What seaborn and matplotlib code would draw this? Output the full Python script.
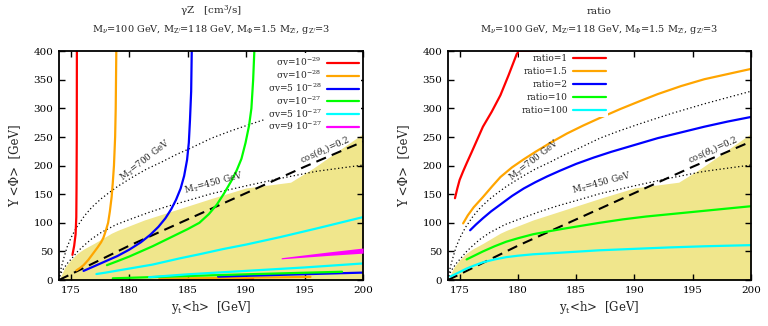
import matplotlib
matplotlib.use("Agg")
import matplotlib.pyplot as plt
import seaborn as sns
import pandas as pd

sns.set_theme(style="ticks")
plt.rcParams["font.family"] = ["DejaVu Serif"]
plt.rcParams["mathtext.fontset"] = "dejavuserif"

# ---- shared curves (same in both panels) ----
mt700_x = [174.0, 174.05, 174.15, 174.3, 174.45, 174.7, 175.03, 175.5, 176.17, 176.8, 177.6, 178.3,
           179.04, 180.46, 181.5, 182.75, 184.0, 185.2, 187.05, 188.6, 190.3, 193.0, 196.0, 200.0]
mt700_y = [0, 8, 18, 30, 41, 58, 74, 92, 112, 127, 142, 153,
           164, 182, 194, 206, 219, 230, 248, 260, 272, 290, 308, 330]
mt450_x = [174.0, 174.05, 174.15, 174.3, 174.5, 174.75, 175.1, 175.6, 176.17, 176.8, 177.6, 178.9,
           180.46, 181.8, 183.3, 185.2, 187.05, 190.3, 193.0, 196.0, 200.0]
mt450_y = [0, 5, 11, 17, 23, 30, 38, 50, 61, 72, 83, 97,
           109, 119, 129, 140, 151, 166, 178, 190, 201]
cos_x = [174.0, 180.0, 185.0, 190.0, 195.0, 200.0]
cos_y = [0, 60, 106, 152, 198, 242]
fill_x = [174.0, 174.5, 175.0, 175.6, 176.1, 177.0, 178.5, 179.04, 181.3, 184.2, 187.1, 190.0, 193.8, 195.7, 200.0]
fill_y = [0, 22, 35, 47, 54, 64, 82, 87, 105, 124, 143, 161, 171, 195, 256]

# ---- left panel: sigma v contours ----
sv_labels = [r"σv=10$^{-29}$", r"σv=10$^{-28}$", r"σv=5 10$^{-28}$",
             r"σv=10$^{-27}$", r"σv=5 10$^{-27}$", r"σv=9 10$^{-27}$"]
sv_colors = ["#ff0000", "#ffa500", "#0000ff", "#00ff00", "#00ffff", "#ff00ff"]
sv29_x = [175.15, 175.3, 175.42, 175.48, 175.5, 175.52, 175.53]
sv29_y = [44, 60, 80, 110, 160, 250, 400]
sv29_low_x = [182.6, 186.0, 190.6]
sv29_low_y = [1.2, 1.5, 2.0]
sv28_x = [175.5, 175.8, 176.1, 176.5, 176.9, 177.3, 177.6, 177.8, 178.0, 178.2, 178.35, 178.5,
          178.6, 178.7, 178.8, 178.85, 178.9]
sv28_y = [17, 21, 26, 35, 46, 57, 66, 74, 86, 100, 120, 145, 170, 200, 250, 300, 400]
sv28_low_x = [182.6, 190.0, 195.5]
sv28_low_y = [2.5, 4.0, 5.5]
sv5e28_x = [176.1, 177.0, 178.0, 179.0, 180.0, 181.0, 181.8, 182.5, 183.1, 183.6, 184.0, 184.4,
            184.7, 184.95, 185.1, 185.2, 185.3, 185.35]
sv5e28_y = [16, 24, 33, 42, 53, 66, 79, 93, 108, 124, 140, 160, 182, 210, 240, 280, 330, 400]
sv5e28_low_x = [187.6, 192.0, 200.0]
sv5e28_low_y = [6, 8.5, 13]
sv27_x = [178.1, 179.0, 180.0, 181.0, 182.0, 183.0, 184.0, 185.0, 186.0, 186.8, 187.5, 188.1,
          188.7, 189.2, 189.6, 189.95, 190.25, 190.45, 190.6, 190.7]
sv27_y = [26, 33, 41, 50, 59, 69, 79, 89, 100, 115, 132, 151, 172, 192, 212, 240, 270, 300, 350, 400]
sv27_low_x = [178.6, 185.0, 190.0, 198.2]
sv27_low_y = [3, 7, 10, 14.5]
sv5e27_x = [177.2, 178.0, 180.0, 182.0, 184.35, 186.0, 188.0, 190.0, 192.9, 196.0, 200.0]
sv5e27_y = [10.5, 13, 20, 27, 38, 45, 54, 62, 75, 90, 110]
sv5e27_low_x = [181.7, 185.0, 190.0, 195.0, 200.0]
sv5e27_low_y = [5, 10, 16, 22, 29]
sv9e27_x = [193.0, 195.0, 197.0, 200.0]
sv9e27_lo = [37, 40, 43, 47]
sv9e27_hi = [39, 44, 49, 56]

# ---- right panel: ratio curves ----
ratio_labels = ["ratio=1", "ratio=1.5", "ratio=2", "ratio=10", "ratio=100"]
ratio_colors = ["#ff0000", "#ffa500", "#0000ff", "#00ff00", "#00ffff"]
r1_x = [174.6, 174.8, 175.0, 175.3, 175.6, 176.0, 176.5, 177.0, 177.75, 178.5, 179.2, 179.9, 180.1, 182.2]
r1_y = [143, 160, 175, 190, 204, 222, 245, 268, 294, 323, 358, 395, 400, 401.5]
r15_x = [175.3, 175.7, 176.2, 177.0, 177.8, 178.5, 179.5, 180.5, 181.5, 182.8, 184.2, 185.6,
         187.0, 188.8, 190.5, 192.0, 194.0, 196.0, 198.0, 200.0]
r15_y = [99, 113, 127, 145, 164, 180, 197, 211, 224, 240, 256, 270,
         283, 299, 313, 325, 339, 351, 360, 369]
r2_x = [175.9, 176.4, 177.0, 177.7, 178.5, 179.5, 180.5, 181.5, 182.5, 183.6, 185.0, 186.5,
        188.0, 190.0, 192.0, 194.0, 196.0, 198.0, 200.0]
r2_y = [87, 97, 108, 120, 132, 147, 160, 171, 181, 191, 203, 214,
        224, 236, 248, 258, 268, 277, 285]
r10_x = [175.6, 176.2, 177.0, 178.0, 179.0, 180.0, 181.3, 182.6, 184.0, 185.5, 187.0, 189.0,
         191.0, 193.0, 195.5, 198.0, 200.0]
r10_y = [36, 42, 50, 59, 67, 73, 80, 85, 90, 95, 100, 106, 111, 115, 120, 125, 129]
r100_x = [174.2, 174.6, 175.0, 175.6, 176.2, 177.0, 178.0, 179.0, 180.0, 181.3, 183.0, 185.0,
          187.0, 190.0, 193.0, 196.0, 200.0]
r100_y = [6, 10, 14, 20, 25, 31, 36, 40, 42.5, 45, 47, 49.5, 52, 54.5, 57, 59, 61]

subtitle = r"M$_\nu$=100 GeV, M$_{\rm Z'}$=118 GeV, M$_\Phi$=1.5 M$_{\rm Z'}$, g$_{\rm Z'}$=3"


def curve(ax, x, y, color, lw=1.6, **kw):
    df = pd.DataFrame({"x": x, "y": y})
    sns.lineplot(data=df, x="x", y="y", ax=ax, color=color, lw=lw,
                 sort=False, estimator=None, legend=False, **kw)
    return ax.lines[-1]


def background(ax):
    ax.fill_between(fill_x, 0, fill_y, color="#f0e68c", lw=0, zorder=0)
    curve(ax, mt700_x, mt700_y, "black", lw=0.9, linestyle=(0, (1, 2)))
    curve(ax, mt450_x, mt450_y, "black", lw=0.9, linestyle=(0, (1, 2)))
    curve(ax, cos_x, cos_y, "black", lw=1.5, linestyle=(0, (5, 3)))
    kw = dict(fontsize=6.3, ha="center", va="center", rotation_mode="anchor")
    ax.text(181.4, 209, r"M$_{\rm T}$=700 GeV", rotation=38, **kw)
    ax.text(187.2, 170, r"M$_{\rm T}$=450 GeV", rotation=15, **kw)
    ax.text(196.7, 228, r"cos($\theta_{\rm L}$)=0.2", rotation=24, **kw)


def style(ax, title):
    ax.set_xlim(174, 200)
    ax.set_ylim(0, 400)
    ax.set_xticks([175, 180, 185, 190, 195, 200])
    ax.set_yticks(range(0, 401, 50))
    ax.tick_params(direction="in", top=True, right=True, length=4, width=1,
                   labelsize=7.5, pad=4, colors="black")
    for s in ax.spines.values():
        s.set_linewidth(1.3)
        s.set_color("black")
    ax.set_xlabel(r"y$_{\rm t}$<h>  [GeV]", fontsize=8.5, labelpad=3)
    ax.set_ylabel("Y <Φ>  [GeV]", fontsize=8.5, labelpad=9)
    ax.text(0.5, 1.175, title, transform=ax.transAxes, ha="center", va="center", fontsize=7.5)
    ax.text(0.5, 1.096, subtitle, transform=ax.transAxes, ha="center", va="center", fontsize=7)


fig = plt.figure(figsize=(7.68, 3.26), dpi=100)
ax1 = fig.add_axes([0.0768, 0.141, 0.396, 0.702])
ax2 = fig.add_axes([0.5833, 0.141, 0.3945, 0.702])

# left panel
background(ax1)
handles = []
main = [(sv29_x, sv29_y), (sv28_x, sv28_y), (sv5e28_x, sv5e28_y), (sv27_x, sv27_y), (sv5e27_x, sv5e27_y)]
lows = [(sv29_low_x, sv29_low_y), (sv28_low_x, sv28_low_y), (sv5e28_low_x, sv5e28_low_y),
        (sv27_low_x, sv27_low_y), (sv5e27_low_x, sv5e27_low_y)]
for (x, y), (lx, ly), c in zip(main, lows, sv_colors):
    handles.append(curve(ax1, x, y, c))
    curve(ax1, lx, ly, c)
ax1.fill_between(sv9e27_x, sv9e27_lo, sv9e27_hi, color=sv_colors[5], lw=0, zorder=3)
handles.append(plt.Line2D([], [], color=sv_colors[5], lw=1.6))
style(ax1, r"γZ   [cm$^3$/s]")
leg = ax1.legend(handles, sv_labels, loc="upper right", bbox_to_anchor=(1.0, 1.0),
                 markerfirst=False, fontsize=6.5, handlelength=3.5, handletextpad=0.6,
                 labelspacing=0.05, borderpad=0.3, borderaxespad=0.2,
                 frameon=True, framealpha=1, facecolor="white", edgecolor="none", fancybox=False)
leg.set_zorder(5)

# right panel
background(ax2)
handles = []
for (x, y), c in zip([(r1_x, r1_y), (r15_x, r15_y), (r2_x, r2_y), (r10_x, r10_y), (r100_x, r100_y)], ratio_colors):
    handles.append(curve(ax2, x, y, c))
style(ax2, "ratio")
leg = ax2.legend(handles, ratio_labels, loc="upper right", bbox_to_anchor=(0.53, 1.0),
                 markerfirst=False, fontsize=6.5, handlelength=3.6, handletextpad=0.6,
                 labelspacing=0.45, borderpad=0.2, borderaxespad=0.1,
                 frameon=True, framealpha=1, facecolor="white", edgecolor="none", fancybox=False)
leg.set_zorder(5)

fig.savefig("out.png", dpi=100)
